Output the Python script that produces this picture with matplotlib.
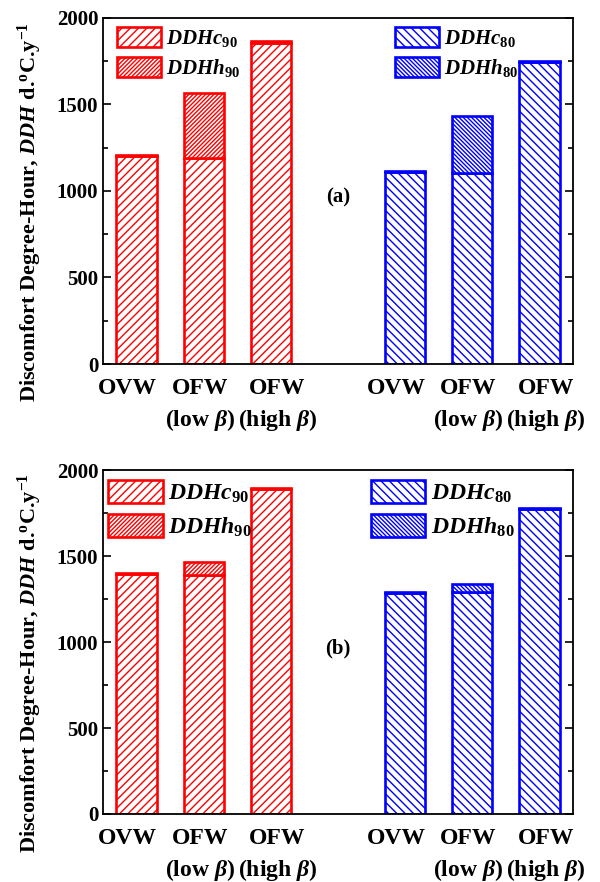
import numpy as np
import matplotlib
matplotlib.use("Agg")
import matplotlib.pyplot as plt
from matplotlib.ticker import MultipleLocator

plt.rcParams["font.family"] = ["Liberation Serif", "DejaVu Serif"]
plt.rcParams["font.weight"] = "bold"
plt.rcParams["mathtext.fontset"] = "custom"
plt.rcParams["mathtext.rm"] = "Liberation Serif:bold"
plt.rcParams["mathtext.bf"] = "Liberation Serif:bold"
plt.rcParams["mathtext.it"] = "Liberation Serif:italic:bold"
plt.rcParams["hatch.linewidth"] = 1.0

categories = ["OVW", "OFW\n(low $\\beta$)", "OFW\n(high $\\beta$)"]

# panel (a)
a_red_c = [1200, 1190, 1855]
a_red_h = [10, 378, 10]
a_blue_c = [1110, 1103, 1743]
a_blue_h = [6, 328, 6]

# panel (b)
b_red_c = [1395, 1390, 1890]
b_red_h = [6, 76, 7]
b_blue_c = [1287, 1290, 1776]
b_blue_h = [5, 50, 5]

red_x = np.array([0, 1, 2])
blue_x = np.array([4, 5, 6])
# labels in the original sit a little off the bar centres
label_shift = np.array([-0.13, -0.06, 0.1])


def draw_panel(ax, red_c, red_h, blue_c, blue_h, tag, leg_fs, red_leg_x, blue_leg_x, hl, hh, ls):
    w = 0.6
    lw = 1.9
    rc = ax.bar(red_x, red_c, w, color="white", edgecolor="red", hatch="////", lw=lw,
                label=r"$DDHc_{90}$")
    rh = ax.bar(red_x, red_h, w, bottom=red_c, color="white", edgecolor="red",
                hatch="////////", lw=lw, label=r"$DDHh_{90}$")
    bc = ax.bar(blue_x, blue_c, w, color="white", edgecolor="blue", hatch="\\" * 4, lw=lw,
                label=r"$DDHc_{80}$")
    bh = ax.bar(blue_x, blue_h, w, bottom=blue_c, color="white", edgecolor="blue",
                hatch="\\" * 8, lw=lw, label=r"$DDHh_{80}$")

    ax.set_xlim(-0.5, 6.5)
    ax.set_ylim(0, 2000)
    ax.yaxis.set_major_locator(MultipleLocator(500))
    ax.yaxis.set_minor_locator(MultipleLocator(250))
    ax.tick_params(axis="y", which="both", direction="in", left=True, right=True, labelsize=15)
    ax.tick_params(axis="y", which="major", length=6, width=1.2)
    ax.tick_params(axis="y", which="minor", length=3.5, width=1.2)
    ax.set_xticks(np.concatenate([red_x + label_shift, blue_x + label_shift]))
    ax.set_xticklabels(categories + categories, fontsize=17, linespacing=1.45)
    ax.tick_params(axis="x", length=0, pad=10)
    for s in ax.spines.values():
        s.set_linewidth(1.3)

    ax.set_ylabel(r"Discomfort Degree-Hour, $DDH$ d.$^{\rm o}$C.y$^{-1}$", fontsize=16,
                  fontweight="bold")
    ax.yaxis.set_label_coords(-0.125, 0.44)

    ax.text(3, 965, tag, ha="center", va="center", fontsize=15, fontweight="bold")

    leg_kw = dict(frameon=False, loc="upper left", fontsize=leg_fs, handlelength=hl,
                  handleheight=hh, labelspacing=ls, handletextpad=0.25, borderpad=0.2,
                  borderaxespad=0)
    l1 = ax.legend(handles=[rc, rh], bbox_to_anchor=(red_leg_x, 0.986), **leg_kw)
    ax.add_artist(l1)
    ax.legend(handles=[bc, bh], bbox_to_anchor=(blue_leg_x, 0.986), **leg_kw)


fig = plt.figure(figsize=(6, 8.82), dpi=100)
ax1 = fig.add_axes([0.1717, 0.5873, 0.7833, 0.3923])
ax2 = fig.add_axes([0.1717, 0.0771, 0.7833, 0.3900])

draw_panel(ax1, a_red_c, a_red_h, a_blue_c, a_blue_h, "(a)", 15, 0.021, 0.612, 2.1, 1.1, 0.36)
draw_panel(ax2, b_red_c, b_red_h, b_blue_c, b_blue_h, "(b)", 17, 0.001, 0.56, 2.3, 1.15, 0.4)

fig.savefig("out.png", dpi=100)
